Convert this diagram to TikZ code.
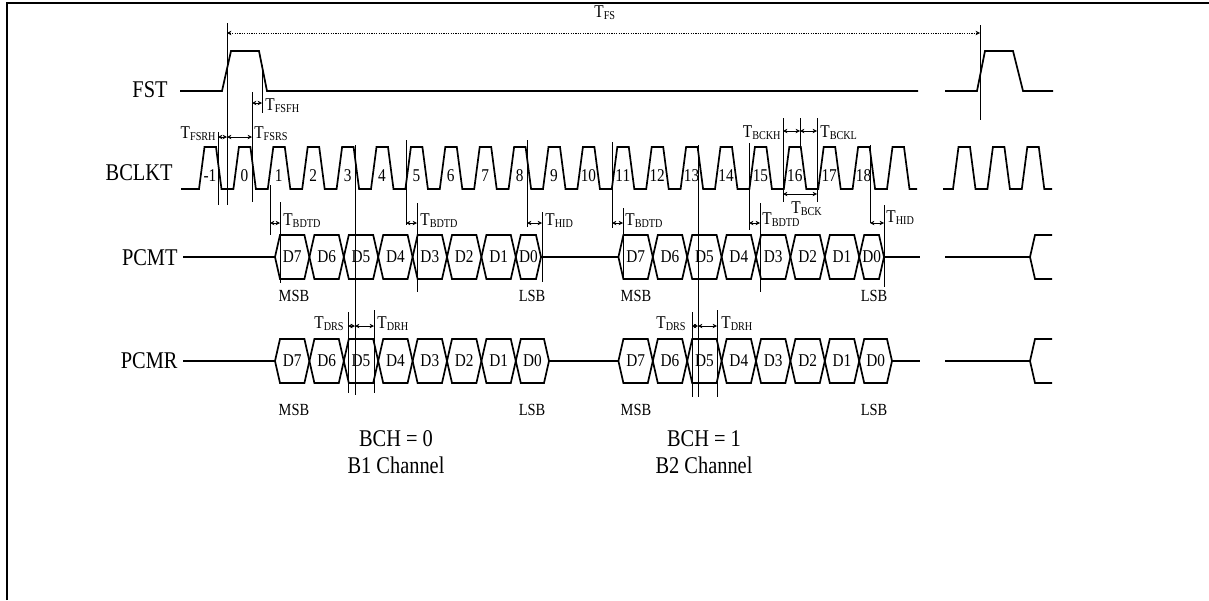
\documentclass[tikz,border=0pt]{standalone}
\usepackage{fontspec}
\setmainfont{Liberation Serif}[FakeStretch=0.85]
\usetikzlibrary{positioning, arrows.meta, calc}

\newcommand{\tlab}[1]{T\textsubscript{#1}}

\begin{document}
\begin{tikzpicture}[
  x=0.5pt, y=-0.5pt,
  sig/.style={line width=0.85pt, line join=miter},
  guide/.style={line width=0.45pt},
  dim/.style={{Stealth[length=2.2pt,width=2.2pt]}-{Stealth[length=2.2pt,width=2.2pt]}, line width=0.45pt},
  rowlbl/.style={inner sep=0pt, font=\fontsize{12}{14}\selectfont},
  tlbl/.style={inner sep=0pt, font=\fontsize{9}{10}\selectfont},
  numlbl/.style={inner sep=0pt, font=\fontsize{9}{10}\selectfont},
  bitlbl/.style={inner sep=0pt, font=\fontsize{9}{10}\selectfont},
  sblbl/.style={inner sep=0pt, font=\fontsize{8.5}{10}\selectfont},
  chlbl/.style={inner sep=0pt, align=center, font=\fontsize{12}{13.5}\selectfont}
]

\useasboundingbox (0,0) rectangle (1209,600);
\draw[line width=1.15pt] (6.7,600) -- (6.7,2.9) -- (1209,2.9);

% row names
\node[rowlbl, anchor=base east] (fst) at (168,97) {FST};
\node[rowlbl, anchor=base east] (bclkt) at (173,180) {BCLKT};
\node[rowlbl, anchor=base east] (pcmt) at (178,265) {PCMT};
\node[rowlbl, anchor=base east] (pcmr) at (178,368) {PCMR};

% frame sync
\draw[sig] (180,91) -- (222,91) -- (231,51) -- (259,51) -- (267,91) -- (918,91);
\draw[sig] (945,91) -- (977,91) -- (985,51) -- (1013,51) -- (1023,91) -- (1053,91);

% bit clock
\draw[sig] (181,189) foreach \k in {0,...,20} {
  -- ({199+34.4*\k},189) -- ({204.5+34.4*\k},147) -- ({216+34.4*\k},147) -- ({221.5+34.4*\k},189)
} -- (917,189);
\draw[sig] (943,189) foreach \k in {0,1,2} {
  -- ({953+34.4*\k},189) -- ({958.5+34.4*\k},147) -- ({970+34.4*\k},147) -- ({975.5+34.4*\k},189)
} -- (1052,189);
\foreach \n [count=\k from 0] in {-1,0,...,18}
  \node[numlbl, anchor=base] (ck\k) at ({210+34.4*\k},181) {\n};

% data buses
\foreach \gx/\gy/\ge/\g in {0/257/541/ta, 343.4/257/884/tb, 0/361/549/ra, 343.4/361/892/rb} {
  \foreach \d [count=\i from 0] in {D7,D6,D5,D4,D3,D2,D1} {
    \pgfmathsetmacro{\xa}{275+\gx+34.4*\i}
    \draw[sig] (\xa,\gy) -- ++(5,-22) -- ++(24.4,0) -- ++(5,22) -- ++(-5,22) -- ++(-24.4,0) -- cycle;
    \node[bitlbl] (\g\i) at (\xa+17.2,\gy) {\d};
  }
  \pgfmathsetmacro{\xb}{515.8+\gx}
  \draw[sig] (\xb,\gy) -- ++(5,-22) -- (\ge-5,\gy-22) -- (\ge,\gy) -- (\ge-5,\gy+22) -- (\xb+5,\gy+22) -- cycle;
  \node[bitlbl] (\g7) at ({(\xb+\ge)/2},\gy) {D0};
}
\draw[sig] (183,257) -- (275,257) (541,257) -- (618.4,257) (884,257) -- (920,257);
\draw[sig] (945,257) -- (1030,257) -- (1035,235) -- (1052,235) (1030,257) -- (1035,279) -- (1052,279);
\draw[sig] (183,361) -- (275,361) (549,361) -- (618.4,361) (892,361) -- (920,361);
\draw[sig] (945,361) -- (1030,361) -- (1035,339) -- (1052,339) (1030,361) -- (1035,383) -- (1052,383);

\node[sblbl, anchor=base] (msbt1) at (294,301) {MSB};
\node[sblbl, anchor=base] (lsbt1) at (532,301) {LSB};
\node[sblbl, anchor=base] (msbt2) at (636,301) {MSB};
\node[sblbl, anchor=base] (lsbt2) at (874,301) {LSB};
\node[sblbl, anchor=base] (msbr1) at (294,415) {MSB};
\node[sblbl, anchor=base] (lsbr1) at (532,415) {LSB};
\node[sblbl, anchor=base] (msbr2) at (636,415) {MSB};
\node[sblbl, anchor=base] (lsbr2) at (874,415) {LSB};

\node[chlbl] (ch1) at (396,452) {BCH = 0\\B1 Channel};
\node[chlbl] (ch2) at (704,452) {BCH = 1\\B2 Channel};

% timing guides
\draw[guide] (227,23) -- (227,205) (980,25) -- (980,120)
  (218,132) -- (218,205) (252,92) -- (252,202) (262,65) -- (262,113)
  (270,185) -- (270,235) (280,202) -- (280,283) (355,145) -- (355,395)
  (406,140) -- (406,225) (417,203) -- (417,292) (527,140) -- (527,227)
  (542,212) -- (542,282) (612,142) -- (612,228) (623,208) -- (623,278)
  (698,145) -- (698,397) (749,143) -- (749,230) (760,203) -- (760,292)
  (783,118) -- (783,202) (800,118) -- (800,147) (817,118) -- (817,202)
  (870,145) -- (870,223) (884,205) -- (884,287)
  (348,312) -- (348,393) (374,310) -- (374,393)
  (692,312) -- (692,397) (717,310) -- (717,397);

% timing arrows
\draw[dim, dash pattern=on 0.6pt off 0.6pt] (227,33) -- (980,33);
\draw[dim] (252,103) -- (262,103);
\draw[dim] (218,137) -- (227,137);
\draw[dim] (227,137) -- (252,137);
\draw[dim] (270,223) -- (280,223);
\draw[dim] (406,223) -- (417,223);
\draw[dim] (527,223) -- (542,223);
\draw[dim] (612,223) -- (623,223);
\draw[dim] (749,223) -- (760,223);
\draw[dim] (870,223) -- (884,223);
\draw[dim] (783,131) -- (800,131);
\draw[dim] (800,131) -- (817,131);
\draw[dim] (783,194) -- (817,194);
\draw[dim] (348,326) -- (355,326);
\draw[dim] (355,326) -- (374,326);
\draw[dim] (692,326) -- (698,326);
\draw[dim] (698,326) -- (717,326);

\node[tlbl, anchor=base west] (tfs) at (594,17) {\tlab{FS}};
\node[tlbl, anchor=base west] (tfsfh) at (265,110) {\tlab{FSFH}};
\node[tlbl, anchor=base east] (tfsrh) at (217,138) {\tlab{FSRH}};
\node[tlbl, anchor=base west] (tfsrs) at (254,138) {\tlab{FSRS}};
\node[tlbl, anchor=base west] (tbdtd1) at (283,225) {\tlab{BDTD}};
\node[tlbl, anchor=base west] (tbdtd2) at (420,225) {\tlab{BDTD}};
\node[tlbl, anchor=base west] (thid1) at (545,225) {\tlab{HID}};
\node[tlbl, anchor=base west] (tbdtd3) at (625,225) {\tlab{BDTD}};
\node[tlbl, anchor=base west] (tbdtd4) at (762,224) {\tlab{BDTD}};
\node[tlbl, anchor=base west] (thid2) at (886,222) {\tlab{HID}};
\node[tlbl, anchor=base east] (tbckh) at (782,137) {\tlab{BCKH}};
\node[tlbl, anchor=base west] (tbckl) at (820,137) {\tlab{BCKL}};
\node[tlbl, anchor=base west] (tbck) at (791,213) {\tlab{BCK}};
\node[tlbl, anchor=base east] (tdrs1) at (345,328) {\tlab{DRS}};
\node[tlbl, anchor=base west] (tdrh1) at (377,328) {\tlab{DRH}};
\node[tlbl, anchor=base east] (tdrs2) at (687,328) {\tlab{DRS}};
\node[tlbl, anchor=base west] (tdrh2) at (721,328) {\tlab{DRH}};

\end{tikzpicture}
\end{document}
